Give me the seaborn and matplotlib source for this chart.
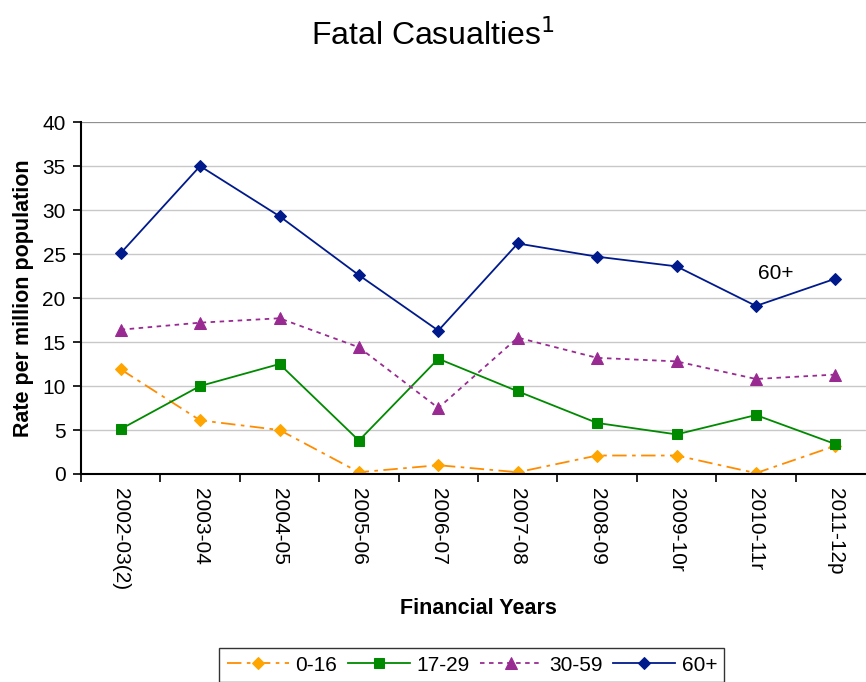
import pandas as pd
import seaborn as sns
import matplotlib.pyplot as plt
from matplotlib.ticker import FixedLocator

years = ["2002-03(2)", "2003-04", "2004-05", "2005-06", "2006-07",
         "2007-08", "2008-09", "2009-10r", "2010-11r", "2011-12p"]
age_0_16 = [11.9, 6.1, 5.0, 0.2, 1.0, 0.2, 2.1, 2.1, 0.1, 3.2]
age_17_29 = [5.1, 10.0, 12.5, 3.8, 13.1, 9.4, 5.8, 4.5, 6.7, 3.4]
age_30_59 = [16.4, 17.2, 17.7, 14.4, 7.5, 15.5, 13.2, 12.8, 10.8, 11.3]
age_60_plus = [25.1, 35.0, 29.3, 22.6, 16.3, 26.2, 24.7, 23.6, 19.1, 22.2]

series = {"0-16": age_0_16, "17-29": age_17_29, "30-59": age_30_59, "60+": age_60_plus}
styles = {
    "0-16": dict(color="#FF8C00", marker="D", ls=(0, (8, 3, 2, 3)), ms=6, mfc="#FFA500"),
    "17-29": dict(color="#008A00", marker="s", ls="-", ms=7, mfc="#008A00"),
    "30-59": dict(color="#992A92", marker="^", ls=(0, (2.5, 2.5)), ms=8, mfc="#992A92"),
    "60+": dict(color="#001A8C", marker="D", ls="-", ms=6, mfc="#001A8C"),
}

plt.rcParams["font.family"] = ["Liberation Sans", "DejaVu Sans"]

fig = plt.figure(figsize=(8.66, 6.82), dpi=100)
ax = fig.add_axes([0.0935, 0.305, 0.917, 0.516])

handles = []
for name, vals in series.items():
    df = pd.DataFrame({"year": range(len(years)), "rate": vals})
    st = styles[name]
    sns.lineplot(data=df, x="year", y="rate", ax=ax, color=st["color"],
                 marker=st["marker"], markersize=st["ms"], markerfacecolor=st["mfc"],
                 markeredgecolor=st["mfc"], linewidth=1.3, linestyle=st["ls"],
                 label=name, legend=False)
    handles.append(ax.lines[-1])

ax.set_xlim(-0.5, len(years) - 0.5)
ax.set_ylim(0, 40)
ax.set_yticks(range(0, 41, 5))
ax.set_xticks(range(len(years)))
ax.set_xticklabels(years, rotation=-90, fontsize=15)
ax.xaxis.set_minor_locator(FixedLocator([i - 0.5 for i in range(len(years) + 1)]))
ax.tick_params(axis="x", which="major", length=0, pad=10)
ax.tick_params(axis="x", which="minor", length=6, width=1.2, direction="out")
ax.tick_params(axis="y", labelsize=15, length=6, width=1.2, direction="out", pad=5)
ax.grid(axis="y", color="#C8C8C8", linewidth=1)
ax.set_axisbelow(True)
for s in ["top", "right"]:
    ax.spines[s].set_visible(False)
ax.spines["left"].set_linewidth(1.5)
ax.spines["bottom"].set_linewidth(1.5)
ax.axhline(40, color="#909090", linewidth=1.5)

ax.set_xlabel("Financial Years", fontsize=15.5, fontweight="bold", labelpad=6)
ax.set_ylabel("Rate per million population", fontsize=15.5, fontweight="bold", labelpad=6)

ax.text(8.25, 22.8, "60+", fontsize=15, ha="center", va="center")

fig.text(0.5, 0.948, "Fatal Casualties$^1$", fontsize=23, ha="center", va="center")

leg = fig.legend(handles=handles, labels=list(series.keys()), loc="lower center",
                 bbox_to_anchor=(0.545, -0.015), ncol=4, fontsize=15, frameon=True,
                 fancybox=False, edgecolor="black", handlelength=3.0,
                 handletextpad=0.3, columnspacing=0.5, borderpad=0.35)
leg.get_frame().set_linewidth(1)

fig.savefig("out.png", dpi=100)
